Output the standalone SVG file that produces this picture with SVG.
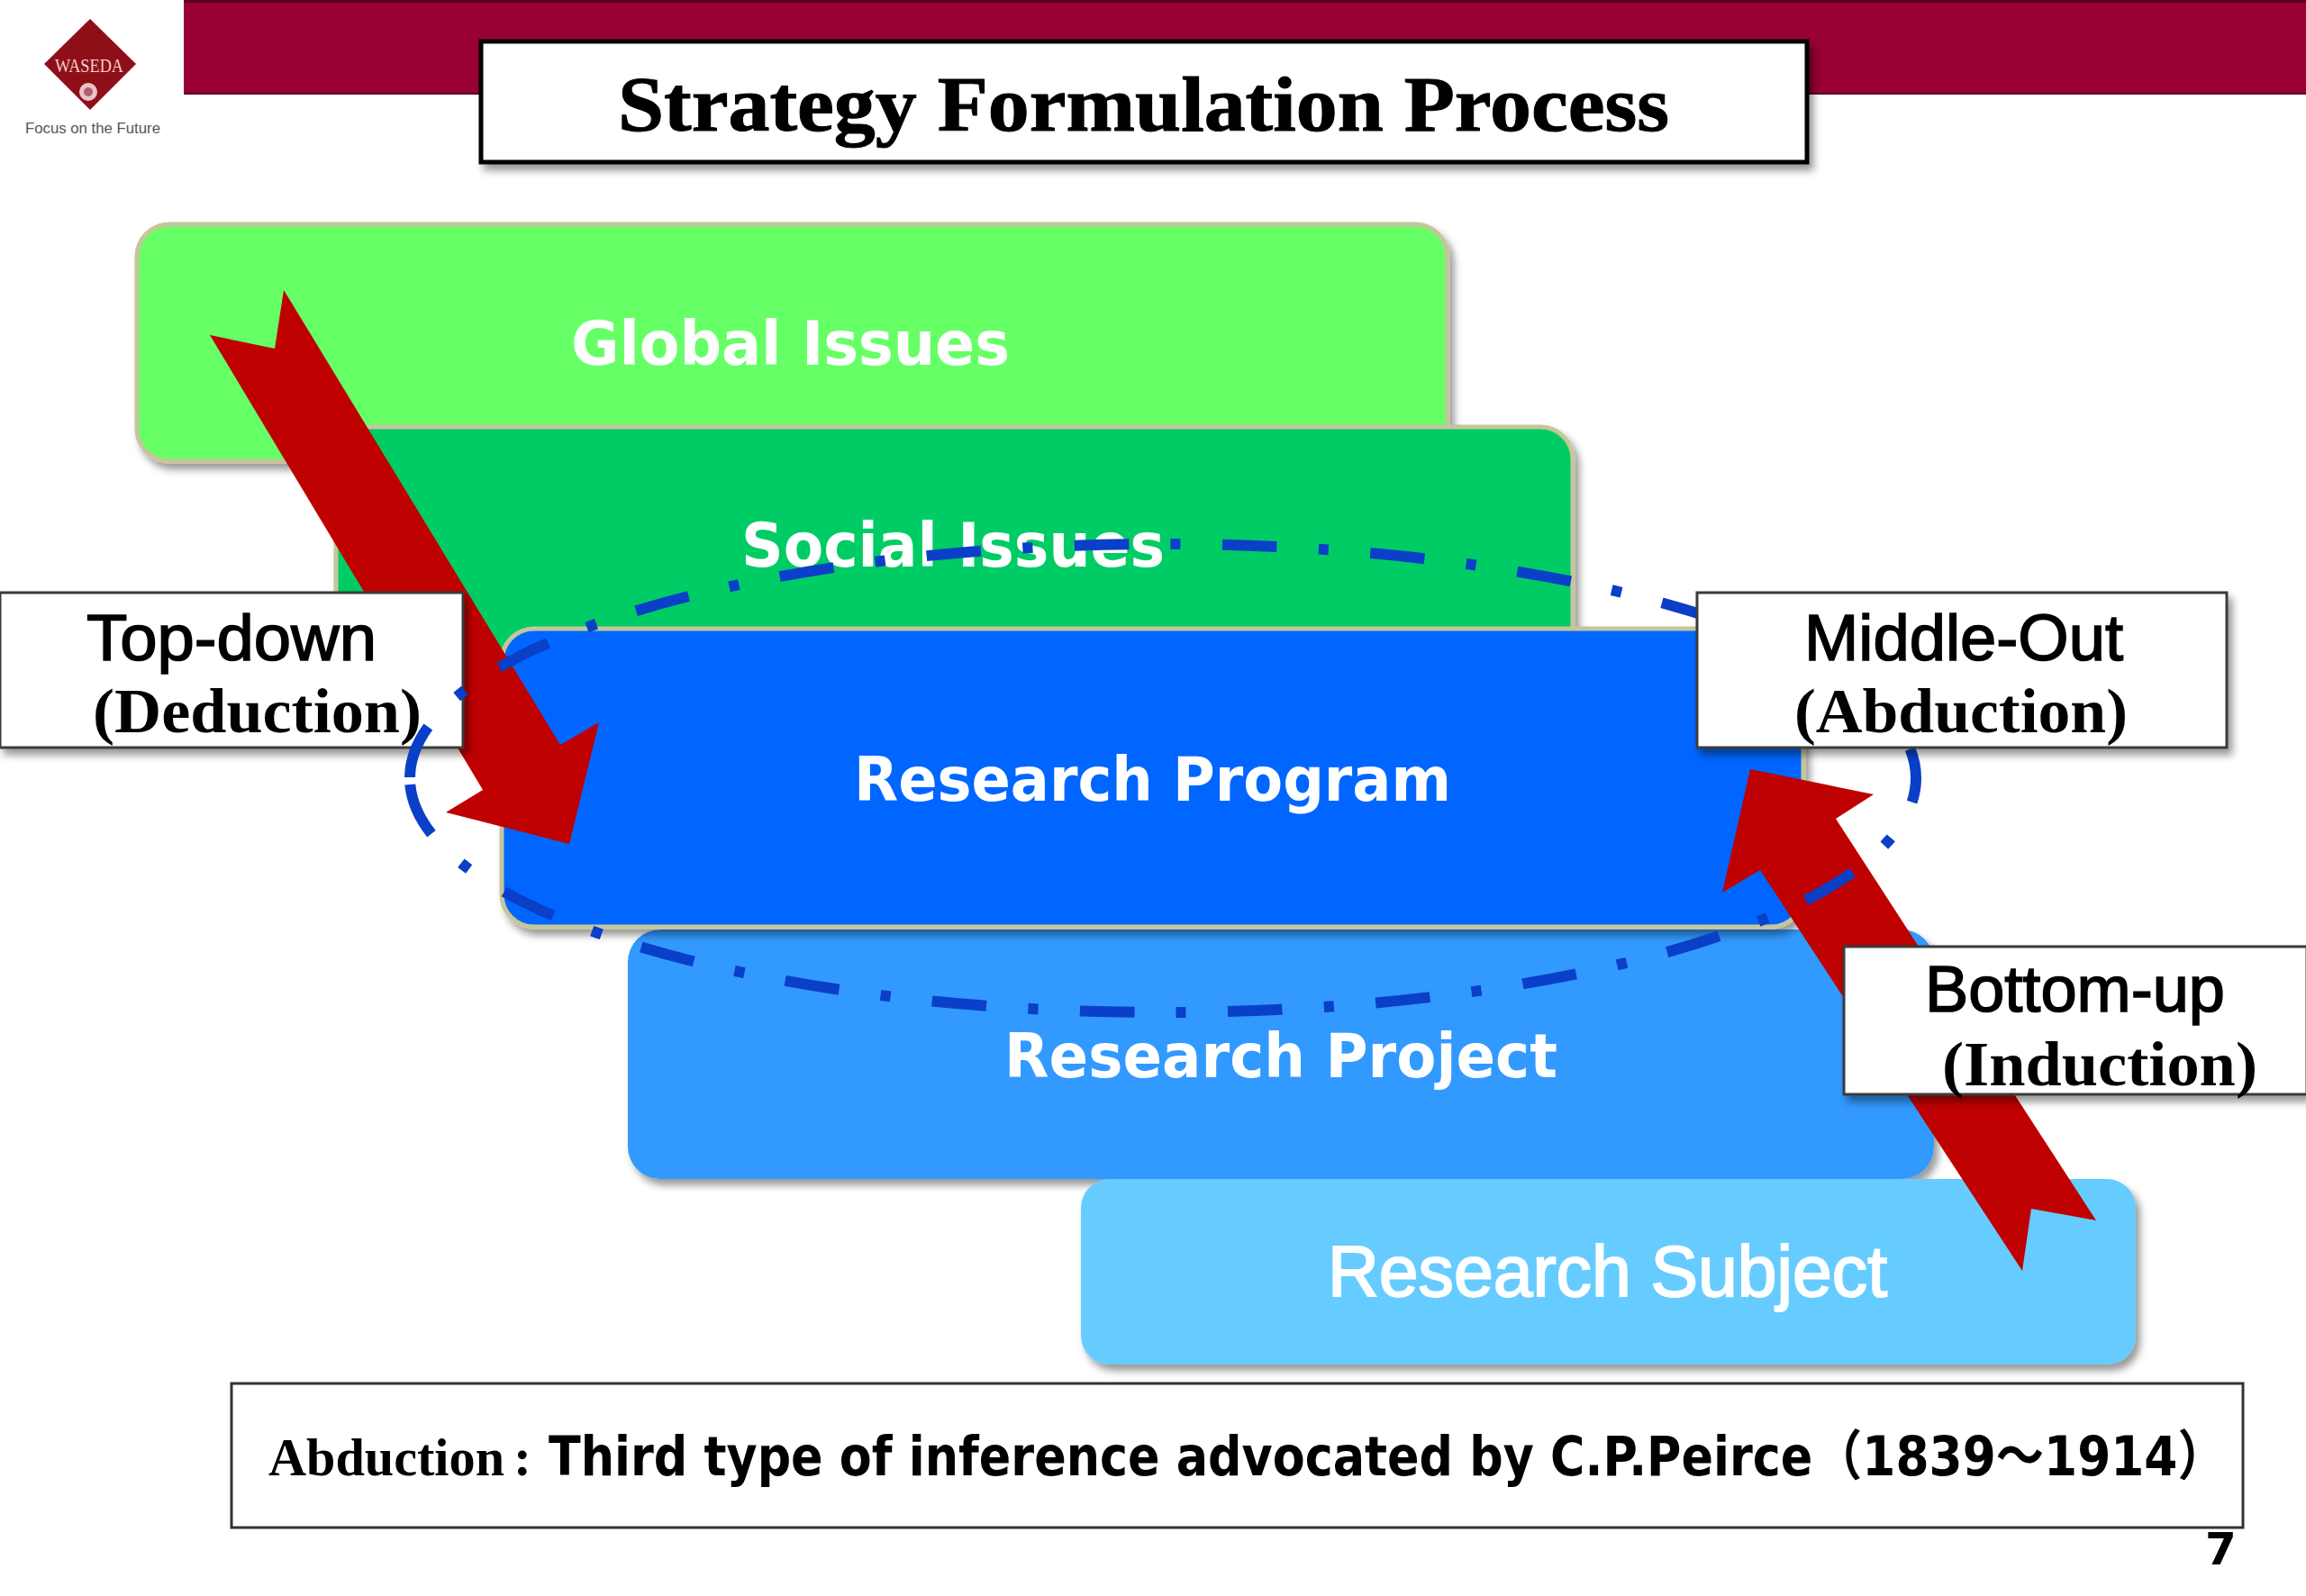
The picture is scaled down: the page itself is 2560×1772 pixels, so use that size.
<svg xmlns="http://www.w3.org/2000/svg" width="2560" height="1772" viewBox="0 0 2560 1772">
<style>
.serif{font-family:"Liberation Serif","Noto Sans CJK JP",serif;font-weight:700;fill:#000}
.sans{font-family:"Liberation Sans",Arial,sans-serif;fill:#000;stroke:#000;stroke-width:1.6}
.bold{font-family:"DejaVu Sans","Noto Sans CJK JP",sans-serif;font-weight:700}
.wh{fill:#fff}
.lay{stroke:#c6c69c;stroke-width:5}
.lab{fill:#fff;stroke:#3a3a3a;stroke-width:3}
.red{fill:#bf0000}
</style>
<defs>
<filter id="sh" x="-5%" y="-10%" width="112%" height="125%"><feDropShadow dx="5" dy="7" stdDeviation="4" flood-color="#000" flood-opacity="0.4"/></filter>
</defs>
<rect width="2560" height="1772" fill="#fff"/>
<g id="header">
<rect x="204" y="0" width="2356" height="105" fill="#990033"/>
<rect x="204" y="0" width="2356" height="3" fill="#5c0020"/>
<rect x="204" y="103" width="2356" height="2" fill="#5c0020"/>
</g>
<g id="logo">
<polygon points="100,21 151,71 100,122 49,71" fill="#8f0f18"/>
<text x="61" y="80" font-family="Liberation Serif" font-size="21" fill="#f0d0d0" textLength="76" lengthAdjust="spacingAndGlyphs">WASEDA</text>
<circle cx="98" cy="102" r="10" fill="#e8c4c8"/>
<circle cx="98" cy="102" r="5" fill="#b06070"/>
<text x="28" y="148" font-family="Liberation Sans" font-size="17" fill="#555" textLength="150" lengthAdjust="spacingAndGlyphs">Focus on the Future</text>
</g>
<g id="title">
<rect x="534" y="46" width="1472" height="134" fill="#fff" stroke="#000" stroke-width="5" filter="url(#sh)"/>
<text class="serif" x="686" y="145" font-size="86" stroke="#000" stroke-width="1" textLength="1167" lengthAdjust="spacingAndGlyphs">Strategy Formulation Process</text>
</g>
<g id="global-issues">
<rect class="lay" x="152" y="249" width="1455" height="263" rx="36" fill="#66ff66" filter="url(#sh)"/>
<text class="bold wh" x="634" y="405" font-size="68" textLength="487" lengthAdjust="spacingAndGlyphs">Global Issues</text>
</g>
<g id="social-issues">
<rect class="lay" x="373" y="474" width="1373" height="300" rx="36" fill="#00cc66" filter="url(#sh)"/>
<text class="bold wh" x="823" y="629" font-size="68" textLength="470" lengthAdjust="spacingAndGlyphs">Social Issues</text>
</g>
<g id="research-project">
<rect x="697" y="1032" width="1450" height="277" rx="36" fill="#3399ff" filter="url(#sh)"/>
<text class="bold wh" x="1115" y="1196" font-size="68" textLength="614" lengthAdjust="spacingAndGlyphs">Research Project</text>
</g>
<g id="research-subject">
<rect x="1200" y="1309" width="1171" height="206" rx="32" fill="#66ccff" filter="url(#sh)"/>
<text x="1474" y="1439" font-family="Liberation Sans" font-size="80" class="wh" stroke="#fff" stroke-width="2" textLength="621" lengthAdjust="spacingAndGlyphs">Research Subject</text>
</g>
<g id="research-program">
<rect class="lay" x="557" y="698" width="1445" height="331" rx="36" fill="#0066ff" filter="url(#sh)"/>
<text class="bold wh" x="948" y="889" font-size="68" textLength="663" lengthAdjust="spacingAndGlyphs">Research Program</text>
</g>
<g id="connectors">
<polygon class="red" points="233,372 305,387 315,322 622,827 665,802 632,937 495,902 536,877"/>
<polygon class="red" points="1943,854 2080,882 2038,909 2327,1355 2255,1342 2245,1411 1954,966 1912,991"/>
</g>
<g id="top-down">
<rect class="lab" x="0" y="658" width="514" height="172" filter="url(#sh)"/>
<text class="sans" x="96" y="733" font-size="72" textLength="322" lengthAdjust="spacingAndGlyphs">Top-down</text>
<text class="serif" x="103" y="813" font-size="70" textLength="365" lengthAdjust="spacingAndGlyphs">(Deduction)</text>
</g>
<g id="scope-ellipse">
<path d="M455,864 A836,260 0 1 0 2127,864 A836,260 0 1 0 455,864" fill="none" stroke="#0a3fc8" stroke-width="12" pathLength="3654" stroke-dasharray="60 46 11 46" stroke-dashoffset="-7"/>
</g>
<g id="middle-out">
<rect class="lab" x="1884" y="658" width="588" height="172" filter="url(#sh)"/>
<text class="sans" x="2003" y="733" font-size="72" textLength="354" lengthAdjust="spacingAndGlyphs">Middle-Out</text>
<text class="serif" x="1992" y="813" font-size="70" textLength="370" lengthAdjust="spacingAndGlyphs">(Abduction)</text>
</g>
<g id="bottom-up">
<rect class="lab" x="2047" y="1051" width="514" height="164" filter="url(#sh)"/>
<text class="sans" x="2137" y="1123" font-size="72" textLength="333" lengthAdjust="spacingAndGlyphs">Bottom-up</text>
<text class="serif" x="2156" y="1205" font-size="70" textLength="350" lengthAdjust="spacingAndGlyphs">(Induction)</text>
</g>
<g id="abduction-note">
<rect x="257" y="1536" width="2233" height="160" fill="#fff" stroke="#333" stroke-width="3"/>
<text class="serif" x="298" y="1638" font-size="60" textLength="262" lengthAdjust="spacingAndGlyphs">Abduction</text>
<text class="serif" x="570" y="1638" font-size="60">:</text>
<text class="bold" transform="translate(609,1638) scale(0.873,1)" font-size="60">Third type of inference advocated by C.P.Peirce</text>
<text class="bold" transform="translate(2014,1638) scale(0.889,1)" font-size="60">（1839～1914）</text>
</g>
<text id="page-number" class="bold" x="2448" y="1737" font-size="50">7</text>
</svg>
